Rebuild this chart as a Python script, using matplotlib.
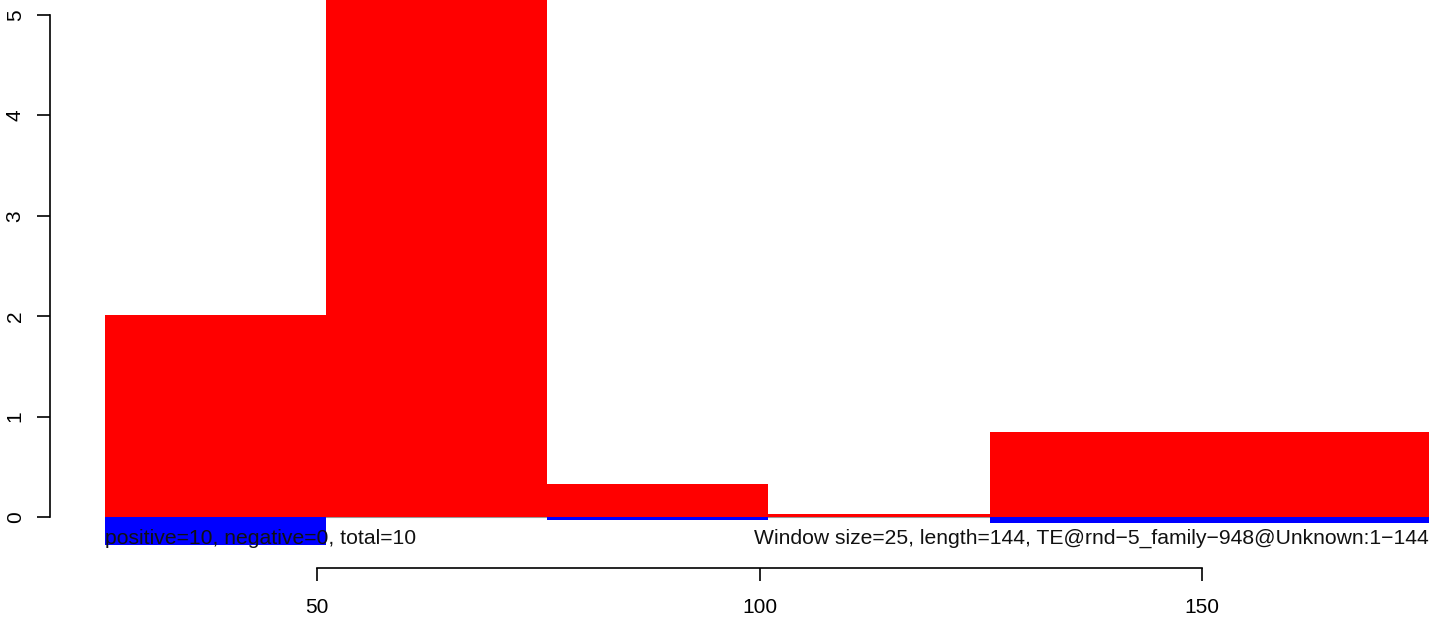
import matplotlib
matplotlib.use("Agg")
import matplotlib.pyplot as plt

plt.rcParams['font.family'] = ['Liberation Sans', 'DejaVu Sans']

# Data
win_start = [26, 51, 76, 101, 126]
win_end = [51, 76, 101, 126, 176]
pos_vals = [2.01, 5.6, 0.33, 0.03, 0.85]
neg_vals = [-0.28, 0.0, -0.03, 0.0, -0.06]
x_ticks = [50, 100, 150]
y_ticks = [0, 1, 2, 3, 4, 5]
left_label = "positive=10, negative=0, total=10"
right_label = "Window size=25, length=144, TE@rnd\u22125_family\u2212948@Unknown:1\u2212144"

fig = plt.figure(figsize=(14.29, 6.2), dpi=100)
ax = fig.add_axes([0, 0, 1, 1])
ax.set_xlim(14.18, 175.65)
ax.set_ylim(-1.026, 5.149)

widths = [e - s for s, e in zip(win_start, win_end)]
ax.hlines(0, win_start[0], win_end[-1], color='#9a9a9a', linewidth=0.8, zorder=0.5)
ax.bar(win_start, pos_vals, width=widths, align='edge', color='#FF0000', linewidth=0, zorder=1)
ax.bar(win_start, neg_vals, width=widths, align='edge', color='#0000FF', linewidth=0, zorder=1)

ax.text(win_start[0], -0.215, left_label, ha='left', va='center', fontsize=15.2, color='#111111', zorder=3)
ax.text(1.0, -0.215, right_label, ha='right', va='center', fontsize=15.2, color='#111111',
        transform=ax.get_yaxis_transform(), zorder=3)

for s in ['top', 'right']:
    ax.spines[s].set_visible(False)
ax.spines['left'].set_position(('data', 19.83))
ax.spines['left'].set_bounds(0, 5)
ax.spines['bottom'].set_position(('data', -0.508))
ax.spines['bottom'].set_bounds(50, 150)
for s in ['left', 'bottom']:
    ax.spines[s].set_linewidth(1.2)

ax.set_xticks(x_ticks)
ax.set_xticklabels([str(v) for v in x_ticks])
ax.set_yticks(y_ticks)
ax.set_yticklabels([str(v) for v in y_ticks], rotation=90, va='center')
ax.tick_params(axis='both', direction='out', length=9.2, width=1.2, labelsize=15, colors='black')
ax.tick_params(axis='x', pad=12.5)
ax.tick_params(axis='y', pad=9)
ax.patch.set_alpha(0)

fig.savefig("out.png", dpi=100)
